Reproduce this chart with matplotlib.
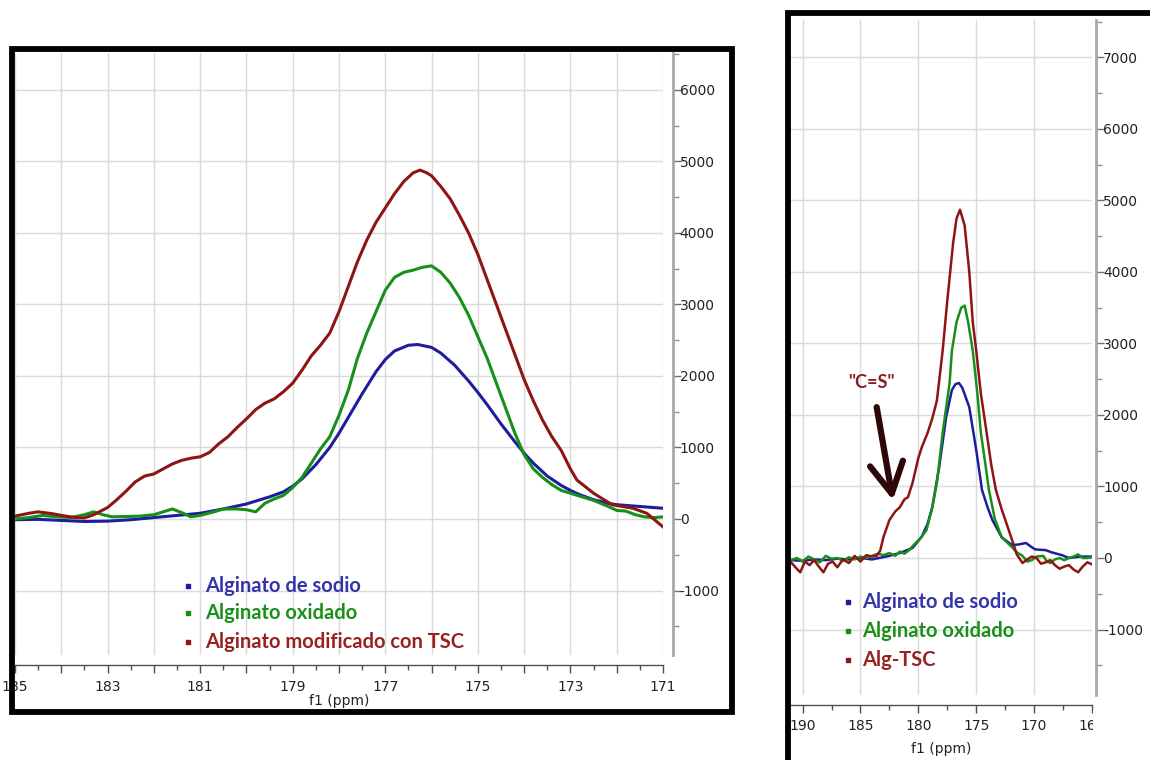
import numpy as np
import matplotlib
matplotlib.use('Agg')
import matplotlib.pyplot as plt
from matplotlib.patches import Rectangle
from matplotlib.lines import Line2D
from matplotlib.ticker import MultipleLocator, FuncFormatter

plt.rcParams['axes.unicode_minus'] = False
plt.rcParams['font.family'] = ['DejaVu Sans']

W, H = 1150, 760

# ---- left panel data (zoom 185-171 ppm) ----
red_l_ppm = [185.0, 184.7, 184.5, 184.2, 184.0, 183.7, 183.5, 183.3, 183.0, 182.8, 182.6, 182.4,
             182.2, 182.0, 181.8, 181.6, 181.4, 181.2, 181.0, 180.8, 180.6, 180.4, 180.2, 180.0,
             179.8, 179.6, 179.4, 179.2, 179.0, 178.8, 178.6, 178.4, 178.2, 178.0, 177.8, 177.6,
             177.4, 177.2, 177.0, 176.8, 176.6, 176.4, 176.25, 176.1, 176.0, 175.8, 175.6, 175.4,
             175.2, 175.0, 174.8, 174.6, 174.4, 174.2, 174.0, 173.8, 173.6, 173.4, 173.2, 173.0,
             172.86, 172.5, 172.1, 171.65, 171.35, 171.0]
red_l_int = [40, 80, 100, 75, 50, 20, 15, 60, 160, 270, 390, 520,
             600, 630, 700, 770, 820, 850, 870, 930, 1050, 1150, 1280, 1400,
             1530, 1620, 1680, 1780, 1900, 2080, 2280, 2430, 2600, 2900, 3250, 3600,
             3900, 4150, 4350, 4550, 4720, 4840, 4880, 4840, 4800, 4650, 4480, 4250,
             4000, 3700, 3350, 3000, 2650, 2300, 1950, 1650, 1380, 1150, 960, 700,
             545, 360, 200, 150, 80, -110]

blue_l_ppm = [185.0, 184.5, 184.0, 183.5, 183.0, 182.5, 182.0, 181.5, 181.0, 180.5, 180.0, 179.5,
              179.2, 179.0, 178.8, 178.5, 178.2, 178.0, 177.8, 177.5, 177.2, 177.0, 176.8, 176.5,
              176.3, 176.0, 175.8, 175.5, 175.2, 175.0, 174.8, 174.5, 174.2, 174.0, 173.8, 173.5,
              173.2, 173.0, 172.8, 172.5, 172.2, 172.0, 171.5, 171.0]
blue_l_int = [-10, -5, -20, -35, -30, -10, 20, 50, 80, 140, 210, 310,
              380, 460, 560, 760, 1000, 1200, 1420, 1750, 2060, 2230, 2350, 2430,
              2440, 2400, 2320, 2150, 1930, 1770, 1600, 1330, 1080, 920, 780, 600,
              470, 400, 340, 270, 220, 200, 175, 150]

green_l_ppm = [185.0, 184.7, 184.4, 184.1, 183.8, 183.5, 183.3, 183.1, 182.9, 182.6, 182.3, 182.0,
               181.8, 181.6, 181.4, 181.2, 181.0, 180.7, 180.5, 180.2, 180.0, 179.8, 179.6, 179.4,
               179.2, 179.0, 178.8, 178.6, 178.4, 178.2, 178.0, 177.8, 177.6, 177.4, 177.2, 177.0,
               176.8, 176.6, 176.4, 176.2, 176.0, 175.8, 175.6, 175.4, 175.2, 175.0, 174.8, 174.6,
               174.4, 174.2, 174.0, 173.8, 173.6, 173.4, 173.2, 173.0, 172.8, 172.5, 172.2, 172.0,
               171.8, 171.6, 171.4, 171.2, 171.0]
green_l_int = [0, 20, 50, 30, 20, 60, 100, 60, 30, 35, 40, 60,
               100, 140, 90, 30, 50, 100, 140, 140, 130, 100, 220, 280,
               330, 440, 580, 780, 980, 1150, 1450, 1800, 2250, 2600, 2900, 3200,
               3380, 3450, 3480, 3520, 3540, 3450, 3300, 3100, 2850, 2550, 2250, 1900,
               1550, 1200, 900, 700, 580, 480, 400, 360, 320, 260, 180, 120,
               110, 60, 30, 20, 30]

# ---- right panel data (full 191-165 ppm) ----
red_r_ppm = [191.0, 190.5, 190.2, 189.8, 189.4, 189.0, 188.6, 188.2, 187.8, 187.4, 187.0, 186.5,
             186.0, 185.5, 185.0, 184.5, 184.0, 183.6, 183.3, 183.0, 182.5, 182.0, 181.6, 181.2,
             180.9, 180.5, 180.0, 179.7, 179.2, 178.8, 178.4, 177.9, 177.5, 177.0, 176.7, 176.4,
             176.0, 175.6, 175.3, 175.0, 174.6, 174.1, 173.7, 173.3, 172.8, 172.4, 171.9, 171.5,
             171.0, 170.6, 170.2, 169.8, 169.4, 169.0, 168.6, 168.2, 167.8, 167.4, 167.0, 166.6,
             166.2, 165.8, 165.4, 165.0]
red_r_int = [-60, -150, -200, -50, -100, -30, -120, -200, -80, -50, -130, -20,
             -70, 30, -50, 40, 20, 30, 100, 300, 530, 650, 710, 820,
             850, 1050, 1400, 1550, 1750, 1950, 2200, 2900, 3600, 4400, 4750, 4870,
             4650, 4000, 3300, 2900, 2300, 1750, 1300, 950, 680, 490, 250, 50,
             -70, -20, 20, 0, -80, -60, -30, -100, -150, -120, -100, -160,
             -200, -120, -60, -90]

green_r_ppm = [191.0, 190.5, 190.0, 189.5, 189.0, 188.5, 188.0, 187.5, 187.0, 186.5, 186.0, 185.5,
               185.0, 184.5, 184.0, 183.5, 183.0, 182.5, 182.0, 181.6, 181.2, 180.8, 180.3, 179.8,
               179.3, 178.8, 178.4, 177.9, 177.3, 177.1, 176.7, 176.3, 176.0, 175.7, 175.3, 174.9,
               174.6, 174.2, 173.9, 173.4, 172.8, 171.9, 171.5, 171.0, 170.6, 170.2, 169.8, 169.2,
               168.9, 168.6, 168.2, 167.8, 167.4, 167.0, 166.6, 166.2, 165.8, 165.4, 165.0]
green_r_int = [-30, 0, -50, 20, -20, -60, 30, -10, 0, -40, 10, -20,
               20, 0, 30, 60, 40, 70, 30, 90, 60, 110, 200, 280,
               390, 700, 1050, 1750, 2450, 2900, 3300, 3500, 3530, 3300, 2900, 2300,
               1750, 1300, 950, 550, 290, 150, 80, 30, -50, -30, 20, 30,
               -50, -70, -20, 0, -30, 0, 20, 50, 0, 0, 10]

blue_r_ppm = [191.0, 190.0, 189.0, 188.0, 187.0, 186.0, 185.0, 184.0, 183.4, 182.5, 181.6, 180.5,
              179.7, 179.2, 178.8, 178.2, 177.6, 177.1, 176.8, 176.5, 176.2, 175.6, 175.0, 174.5,
              174.0, 173.6, 172.8, 171.9, 171.3, 170.7, 170.2, 169.9, 169.0, 168.5, 167.6, 167.0,
              166.0, 165.0]
blue_r_int = [-30, -40, -20, -30, -10, -20, 0, -20, 0, 30, 70, 140,
              300, 480, 710, 1270, 1970, 2350, 2430, 2448, 2380, 2110, 1510, 950,
              700, 530, 290, 180, 190, 210, 150, 120, 110, 80, 40, 0,
              20, 20]

labels_l = ['Alginato de sodio', 'Alginato oxidado', 'Alginato modificado con TSC']
labels_r = ['Alginato de sodio', 'Alginato oxidado', 'Alg-TSC']
line_colors = ['#1e1e9c', '#17901a', '#8e1515']
text_colors = ['#3434a8', '#1a8f1a', '#982222']


def px_rect(x0, y0, x1, y1):
    return [x0 / W, 1 - y1 / H, (x1 - x0) / W, (y1 - y0) / H]


def style_axes(ax, xmaj, xmin, xlab_step, xlab_off, xpad, labpad):
    ax.set_facecolor('white')
    ax.spines['top'].set_visible(False)
    ax.spines['left'].set_visible(False)
    ax.spines['bottom'].set_position(('outward', 7))
    ax.spines['bottom'].set_color('#505050')
    ax.spines['bottom'].set_linewidth(1.0)
    ax.spines['right'].set_color('#a8a8a8')
    ax.spines['right'].set_linewidth(2.0)
    ax.yaxis.tick_right()
    ax.xaxis.set_major_locator(MultipleLocator(xmaj))
    ax.xaxis.set_minor_locator(MultipleLocator(xmin))
    ax.yaxis.set_major_locator(MultipleLocator(1000))
    ax.yaxis.set_minor_locator(MultipleLocator(500))
    ax.xaxis.set_major_formatter(FuncFormatter(
        lambda v, p: '%d' % round(v) if round(v - xlab_off) % xlab_step == 0 else ''))
    ax.yaxis.set_major_formatter(FuncFormatter(lambda v, p: '%d' % round(v)))
    ax.tick_params(axis='x', which='major', length=6, width=1, color='#505050',
                   labelsize=10, labelcolor='#222222', pad=xpad)
    ax.tick_params(axis='x', which='minor', length=3.5, width=1, color='#505050')
    ax.tick_params(axis='y', which='major', length=6, width=1, color='#707070',
                   labelsize=10, labelcolor='#222222', pad=-1)
    ax.tick_params(axis='y', which='minor', length=4, width=1, color='#909090')
    ax.grid(True, which='major', color='#dadada', lw=1)
    ax.set_axisbelow(True)
    ax.set_xlabel('f1 (ppm)', fontsize=10, color='#222222', labelpad=labpad)


fig = plt.figure(figsize=(W / 100, H / 100), dpi=100)
fig.patch.set_facecolor('white')

# left panel
ax1 = fig.add_axes(px_rect(15, 53, 663, 655))
ax1.plot(blue_l_ppm, blue_l_int, color=line_colors[0], lw=2.2)
ax1.plot(green_l_ppm, green_l_int, color=line_colors[1], lw=2.2)
ax1.plot(red_l_ppm, red_l_int, color=line_colors[2], lw=2.2)
ax1.set_xlim(185, 171)
ax1.set_ylim(-1902, 6517)
style_axes(ax1, 1, 0.5, 2, 1, 5, 0)
ax1.spines['right'].set_position(('outward', 7))

# right panel
ax2 = fig.add_axes(px_rect(791, 20, 1092, 695))
ax2.plot(blue_r_ppm, blue_r_int, color=line_colors[0], lw=1.8)
ax2.plot(green_r_ppm, green_r_int, color=line_colors[1], lw=1.8)
ax2.plot(red_r_ppm, red_r_int, color=line_colors[2], lw=1.8)
ax2.set_xlim(191, 165)
ax2.set_ylim(-1916, 7524)
style_axes(ax2, 5, 2.5, 5, 0, 4, 7)
ax2.spines['right'].set_position(('outward', 3))

# C=S annotation
ax2.text(184.05, 2450, '"C=S"', color='#8a1d1d', fontsize=13, fontweight='bold',
         family='Lato', ha='center', va='center')
ax2.annotate('', xy=(182.2, 810), xytext=(183.6, 2110),
             arrowprops=dict(arrowstyle='->, head_length=1.1, head_width=0.6',
                             color='#2e0808', lw=4.5, mutation_scale=20,
                             shrinkA=0, shrinkB=0))

# legends (marker + coloured bold text)
for (mx, tx, rows, labels) in [(188, 205, [586, 613, 642], labels_l),
                               (848, 862, [602, 631, 660], labels_r)]:
    for i, lab in enumerate(labels):
        fig.add_artist(Line2D([mx / W], [1 - rows[i] / H], marker='s', ms=3.5,
                              color=line_colors[i], ls='none', transform=fig.transFigure))
        fig.text(tx / W, 1 - rows[i] / H, lab, color=text_colors[i], fontsize=14.5,
                 fontweight='bold', family='Lato', ha='left', va='center')

# black frames round the two panels
fig.add_artist(Rectangle((11.5 / W, 1 - 712 / H), (732 - 11.5) / W, (712 - 48.5) / H,
                         transform=fig.transFigure, fill=False, ec='black', lw=4.2, zorder=10))
fig.add_artist(Rectangle((788 / W, 1 - 800 / H), 420 / W, (800 - 12.5) / H,
                         transform=fig.transFigure, fill=False, ec='black', lw=4.2, zorder=10))
# screenshot crop hides the last x label of the right panel
fig.add_artist(Rectangle((1093 / W, 0), 60 / W, 50 / H, transform=fig.transFigure,
                         fc='white', ec='none', zorder=11))

fig.savefig('out.png', dpi=100)
